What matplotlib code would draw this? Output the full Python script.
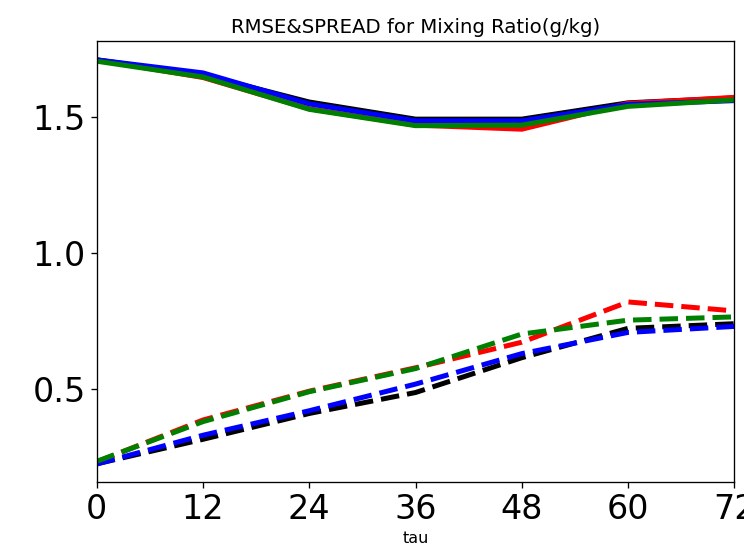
import matplotlib
matplotlib.use('Agg')
from matplotlib import pyplot as plt

tau = [0, 12, 24, 36, 48, 60, 72]

# RMSE (solid) per experiment
rmse_black = [1.71, 1.655, 1.555, 1.492, 1.492, 1.552, 1.570]
rmse_red = [1.71, 1.645, 1.530, 1.470, 1.455, 1.550, 1.572]
rmse_blue = [1.71, 1.662, 1.548, 1.486, 1.486, 1.546, 1.560]
rmse_green = [1.705, 1.647, 1.528, 1.468, 1.470, 1.539, 1.563]

# SPREAD (dashed) per experiment
spread_black = [0.225, 0.315, 0.410, 0.487, 0.615, 0.723, 0.740]
spread_red = [0.232, 0.386, 0.492, 0.578, 0.672, 0.820, 0.787]
spread_blue = [0.224, 0.330, 0.420, 0.518, 0.630, 0.708, 0.730]
spread_green = [0.234, 0.380, 0.490, 0.575, 0.702, 0.753, 0.765]

fig = plt.figure(figsize=(7.44, 5.55), dpi=100)
ax = fig.add_axes([0.130, 0.1315, 0.857, 0.7945])

for r, s, c in [(rmse_black, spread_black, 'k'),
                (rmse_red, spread_red, 'r'),
                (rmse_blue, spread_blue, 'b'),
                (rmse_green, spread_green, 'g')]:
    ax.plot(tau, r, color=c, linewidth=3.6, linestyle='-')
    ax.plot(tau, s, color=c, linewidth=3.6, linestyle='--')

ax.set_xlim(0, 72)
ax.set_ylim(0.158, 1.779)
ax.set_xticks(tau)
ax.set_yticks([0.5, 1.0, 1.5])
ax.tick_params(labelsize=24, length=4.2, width=0.95)
for sp in ax.spines.values():
    sp.set_linewidth(0.95)
ax.set_title('RMSE&SPREAD for Mixing Ratio(g/kg)', fontsize=14.2)
ax.set_xlabel('tau', fontsize=11.5)

fig.savefig('out.png', dpi=100)
